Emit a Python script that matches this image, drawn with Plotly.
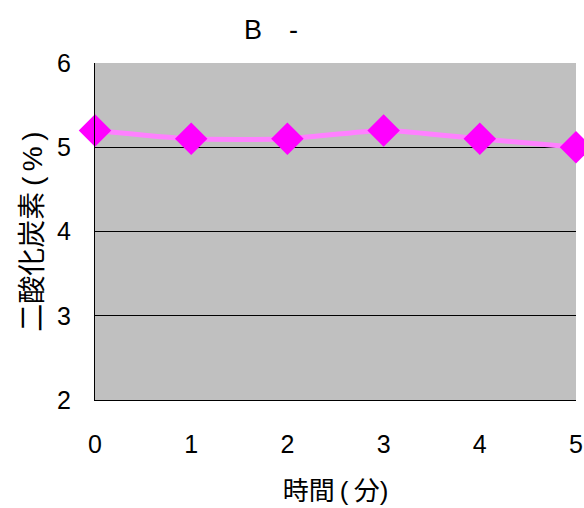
import plotly.graph_objects as go

# Daten
minutes = [0, 1, 2, 3, 4, 5]
co2 = [5.2, 5.1, 5.1, 5.2, 5.1, 5.0]
y_ticks = [2, 3, 4, 5, 6]

font_family = "Liberation Sans, Arial, Noto Sans CJK JP"

fig = go.Figure(
    data=[go.Scatter(
        x=minutes,
        y=co2,
        mode="lines+markers",
        line=dict(color="#FF80FF", width=5, shape="spline", smoothing=0.6),
        marker=dict(symbol="diamond", size=25, color="#FF00FF"),
        cliponaxis=False,
    )]
)

fig.update_layout(
    width=584,
    height=508,
    margin=dict(l=95, r=8, t=63, b=108),
    paper_bgcolor="white",
    plot_bgcolor="#C0C0C0",
    showlegend=False,
    font=dict(family=font_family, size=24, color="black"),
)

# Titel
fig.add_annotation(
    text="B\u2002\u2002-", x=0.365, xref="paper", y=1.0, yref="paper",
    yshift=50, showarrow=False, font=dict(size=27),
)

fig.update_xaxes(
    range=[0, 5],
    tickvals=minutes,
    tickfont=dict(size=25),
    showgrid=False,
    zeroline=False,
    showline=True,
    linecolor="black",
    linewidth=1,
    ticks="",
    ticklabelstandoff=22,
    automargin=False,
    title=dict(text="時間\u2009(\u2009分)", standoff=24, font=dict(size=26)),
)
fig.update_yaxes(
    range=[2, 6],
    tickvals=y_ticks,
    tickfont=dict(size=25),
    showgrid=True,
    gridcolor="black",
    gridwidth=1,
    zeroline=False,
    showline=True,
    linecolor="black",
    linewidth=1,
    ticks="",
    ticklabelstandoff=18,
    automargin=False,
    title=dict(text="二酸化炭素\u2009(\u2009%\u2009)", standoff=6, font=dict(size=28)),
)

fig.write_html(
    "out.html",
    config={"displayModeBar": False},
    post_script="document.body.style.margin='0';",
)
